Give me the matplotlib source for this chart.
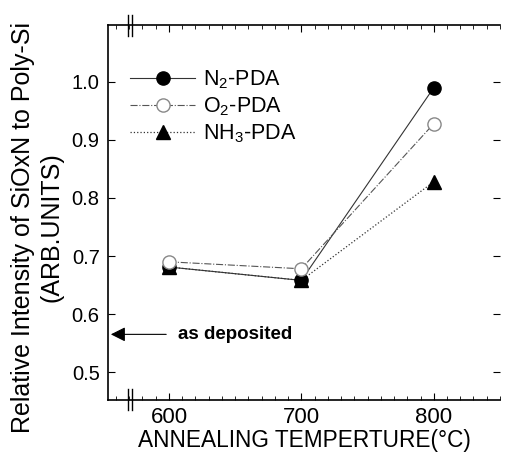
import matplotlib
matplotlib.use("Agg")
import matplotlib.pyplot as plt
from matplotlib.ticker import MultipleLocator

plt.rcParams['font.family'] = ['Liberation Sans', 'DejaVu Sans']
plt.rcParams['mathtext.fontset'] = 'custom'
plt.rcParams['mathtext.rm'] = 'Liberation Sans'
plt.rcParams['mathtext.it'] = 'Liberation Sans'

# data
temps = [600, 700, 800]
n2_pda = [0.681, 0.658, 0.99]
o2_pda = [0.690, 0.678, 0.928]
nh3_pda = [0.681, 0.658, 0.828]
as_deposited = 0.565
xticks = [600, 700, 800]
yticks = [0.5, 0.6, 0.7, 0.8, 0.9, 1.0]

fig = plt.figure(figsize=(5.05, 4.55), dpi=100)
ax = fig.add_axes([0.214, 0.121, 0.776, 0.824])

ax.plot(temps, n2_pda, '-', color='#333333', lw=0.8, marker='o', ms=9.5,
        mfc='black', mec='black', label='N$_2$-PDA', zorder=3)
ax.plot(temps, o2_pda, '-.', color='#555555', lw=0.8, marker='o', ms=9.5,
        mfc='white', mec='#888888', label='O$_2$-PDA', zorder=4)
ax.plot(temps, nh3_pda, ':', color='#333333', lw=0.9, marker='^', ms=9.5,
        mfc='black', mec='black', label='NH$_3$-PDA', zorder=2)

ax.set_xlim(554, 850)
ax.set_ylim(0.452, 1.098)
ax.set_xticks(xticks)
ax.set_yticks(yticks)
ax.set_yticklabels([f'{v:.1f}' for v in yticks])
ax.xaxis.set_minor_locator(MultipleLocator(10))
ax.tick_params(axis='both', which='major', direction='in', length=5, width=0.8,
               pad=6)
ax.tick_params(axis='x', labelsize=16, pad=5)
ax.tick_params(axis='y', labelsize=14.5)
ax.tick_params(axis='x', which='minor', direction='in', length=3, width=0.6)
ax.tick_params(axis='y', right=True)
ax.tick_params(axis='x', top=True, which='both')
ax.spines['right'].set_visible(False)
for s in ['left', 'top', 'bottom']:
    ax.spines[s].set_linewidth(1.2)

ax.set_xlabel('ANNEALING TEMPERTURE(°C)', fontsize=16.3, labelpad=1)
ax.set_ylabel('Relative Intensity of SiOxN to Poly-Si\n(ARB.UNITS)',
              fontsize=18, linespacing=1.2)
ax.yaxis.set_label_coords(-0.115, 0.46)

# as deposited arrow
ax.annotate('', xy=(554, as_deposited), xytext=(600, as_deposited),
            arrowprops=dict(arrowstyle='-|>', color='black', lw=0.8,
                            mutation_scale=22))
ax.text(607, as_deposited, 'as deposited', fontsize=13.5, fontweight='bold',
        va='center', ha='left')

# axis break marks on top and bottom spines
for yb in [0.0, 1.0]:
    for dx in [-0.004, 0.004]:
        ax.plot([0.056 + dx, 0.056 + dx], [yb - 0.028, yb + 0.028],
                transform=ax.transAxes, color='black', lw=1.0, clip_on=False)

ax.legend(loc='upper left', bbox_to_anchor=(0.035, 0.906), frameon=False,
          fontsize=15.5, handlelength=3.0, handletextpad=0.35, labelspacing=0.2,
          borderaxespad=0)

fig.savefig('out.png', dpi=100)
